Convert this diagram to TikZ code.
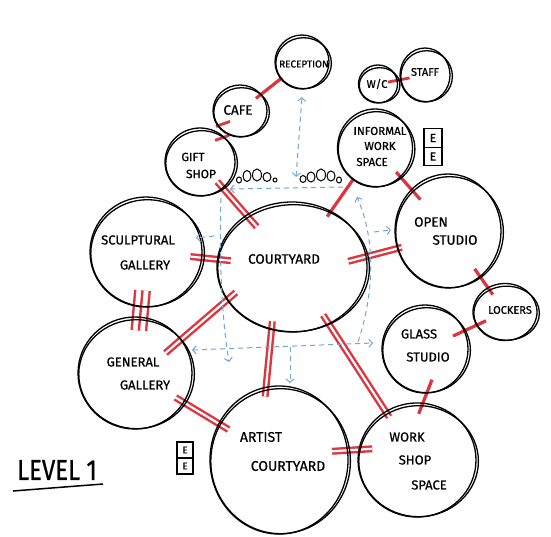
\documentclass[tikz,border=0pt]{standalone}
\usepackage{fontspec}
\setmainfont{Fira Sans}[FakeBold=0.7]
\usetikzlibrary{shapes.geometric,arrows.meta,calc}
\definecolor{rd}{RGB}{222,52,62}
\definecolor{fl}{RGB}{115,165,210}
\pgfdeclarelayer{bg}
\pgfsetlayers{bg,main}
\tikzset{
 ink/.style={draw=black, line width=1.3pt},
 room/.style={ellipse, ink, inner sep=0pt},
 lbl/.style={inner sep=0pt, font=\fontsize{13}{13}\selectfont},
 sgl/.style={draw=rd, line width=3.2pt},
 dbl/.style={draw=rd, line width=2.4pt, double=white, double distance=2.2pt},
 trp/.style={draw=rd, line width=2.4pt, double=white, double distance=12pt},
 flow/.style={draw=fl, line width=1pt, dash pattern=on 5pt off 4pt, >={Straight Barb[length=3.5pt,width=8pt]}},
 ebox/.style={draw, line width=1.1pt, minimum width=18pt, minimum height=18.5pt, inner sep=0pt, font=\fontsize{12}{12}\selectfont},
 dot/.style={draw=black, line width=1pt},
}
\newcommand\rmring[5]{%
  \node[room, minimum width=#4*2pt, minimum height=#5*2pt] (#1) at (#2,#3) {};
  \draw[ink] ([shift={(1.6,1.2)}]#1.center) ellipse [x radius=#4pt+0.8pt, y radius=#5pt-1.5pt];
}
\begin{document}
\begin{tikzpicture}[x=1pt,y=-1pt]
\useasboundingbox (0,0) rectangle (551,537);
% rooms
\rmring{R}{302}{62}{27}{27}
\rmring{C}{240}{111}{27}{26}
\rmring{G}{200}{162}{35}{34}
\rmring{W}{378}{84}{19.5}{19}
\rmring{S}{425}{75}{25}{27}
\rmring{I}{375}{148}{37.5}{39}
\rmring{O}{448}{231}{53}{57}
\rmring{L}{505}{312}{32}{28.5}
\rmring{GS}{425}{349}{43}{44}
\rmring{WS}{417}{460}{59}{57}
\rmring{A}{279}{460}{69}{74}
\rmring{GG}{135}{373}{57}{56}
\rmring{SG}{146}{252}{56}{55}
\rmring{CY}{292}{267}{75}{65}
% labels
\node[lbl, font=\fontsize{10}{10}\selectfont] (Rt) at (304,64) {RECEPTION};
\node[lbl, font=\fontsize{13.5}{13}\selectfont] (Ct) at (238,110) {CAFE};
\node[lbl, font=\fontsize{12}{12}\selectfont] (Gt1) at (193,157) {GIFT};
\node[lbl, font=\fontsize{12}{12}\selectfont] (Gt2) at (201,174) {SHOP};
\node[lbl, font=\fontsize{11}{11}\selectfont] (Wt) at (377,84) {W/C};
\node[lbl, font=\fontsize{11}{11}\selectfont] (St) at (425,72) {STAFF};
\node[lbl, font=\fontsize{11.5}{11}\selectfont] (It1) at (380,131) {INFORMAL};
\node[lbl, font=\fontsize{11.5}{11}\selectfont] (It2) at (380,146) {WORK};
\node[lbl, font=\fontsize{11.5}{11}\selectfont] (It3) at (372,162) {SPACE};
\node[lbl] (SGt1) at (138,240) {SCULPTURAL};
\node[lbl] (SGt2) at (145,265) {GALLERY};
\node[lbl, font=\fontsize{13.5}{13}\selectfont] (CYt) at (284,259) {COURTYARD};
\node[lbl, font=\fontsize{13.5}{13}\selectfont] (Ot1) at (431,222) {OPEN};
\node[lbl, font=\fontsize{13.5}{13}\selectfont] (Ot2) at (455,240) {STUDIO};
\node[lbl, font=\fontsize{11}{11}\selectfont] (Lt) at (510,310) {LOCKERS};
\node[lbl] (GSt1) at (419,334) {GLASS};
\node[lbl] (GSt2) at (428,357) {STUDIO};
\node[lbl] (GGt1) at (133,362) {GENERAL};
\node[lbl] (GGt2) at (145,385) {GALLERY};
\node[lbl, font=\fontsize{14}{14}\selectfont] (At1) at (261,437) {ARTIST};
\node[lbl, font=\fontsize{14}{14}\selectfont] (At2) at (288,466) {COURTYARD};
\node[lbl] (WSt1) at (407,437) {WORK};
\node[lbl] (WSt2) at (415,460) {SHOP};
\node[lbl] (WSt3) at (429,485) {SPACE};
\node[lbl, font=\fontsize{24}{24}\selectfont] (lev) at (57,470) {\scalebox{1}[1.2]{LEVEL 1}};
\coordinate (u1) at (13,491);
\coordinate (u2) at (103,484);
\draw[ink, line width=1.5pt] (u1) -- (u2);
% E boxes
\node[ebox] (E1) at (433,138) {E};
\node[ebox] (E2) at (433,156.5) {E};
\node[ebox, minimum width=16pt, minimum height=16pt, font=\fontsize{10}{10}\selectfont] (E3) at (185,450) {E};
\node[ebox, minimum width=16pt, minimum height=16pt, font=\fontsize{10}{10}\selectfont] (E4) at (185,466) {E};
% small circles
\draw[dot] (239,180) ellipse [x radius=2.5pt, y radius=3pt];
\draw[dot] (247,176) ellipse [x radius=4pt, y radius=5.5pt];
\draw[dot] (257,175) ellipse [x radius=4.5pt, y radius=6pt];
\draw[dot] (267,177) ellipse [x radius=4pt, y radius=4.5pt];
\draw[dot] (275,180) ellipse [x radius=2pt, y radius=2pt];
\draw[dot] (303,179) ellipse [x radius=3pt, y radius=3.5pt];
\draw[dot] (311,177) ellipse [x radius=4pt, y radius=5pt];
\draw[dot] (321,175) ellipse [x radius=4.5pt, y radius=6pt];
\draw[dot] (331,176) ellipse [x radius=4pt, y radius=5pt];
\draw[dot] (339,180) ellipse [x radius=2.5pt, y radius=3pt];
% circulation
\coordinate (ft1) at (230,189);
\coordinate (ft2) at (343,187);
\draw[flow,->] (ft2) -- (ft1);
\coordinate (fr1) at (296,177);
\coordinate (fr2) at (302,97);
\draw[flow,<->] (fr1) -- (fr2);
\coordinate (fl1) at (221,198);
\coordinate (fl2) at (229,362);
\draw[flow,->] (fl1) .. controls (219,260) and (222,320) .. (fl2);
\coordinate (fs1) at (214,236);
\coordinate (fs2) at (196,238);
\draw[flow,->] (fs1) -- (fs2);
\coordinate (fq1) at (358,342);
\coordinate (fq2) at (357,197);
\draw[flow,->] (fq1) .. controls (372,300) and (378,245) .. (fq2);
\coordinate (fo1) at (374,232);
\coordinate (fo2) at (391,230);
\draw[flow,->] (fo1) -- (fo2);
\coordinate (fb1) at (373,343);
\coordinate (fb2) at (192,350);
\draw[flow,<->] (fb2) -- (fb1);
\coordinate (fa1) at (290,347);
\coordinate (fa2) at (290,383);
\draw[flow,->] (fa1) -- (fa2);
% connectors
\begin{pgfonlayer}{bg}
\fill[white] (0,0) rectangle (551,537);
\draw[sgl, shorten <=-2pt, shorten >=-7pt] (R) -- (C);
\coordinate (CGm) at ($(C)!0.4!(G)$);
\draw[sgl, line width=2.8pt] ([shift={(-8,-5)}]CGm) -- ++(14,-5);
\draw[sgl, line width=2.8pt] ([shift={(-9,9)}]CGm) -- ++(14,-5);
\draw[dbl, shorten <=-9pt, shorten >=-16pt] (G) -- (CY);
\draw[sgl, shorten <=-1pt, shorten >=-7pt] (I) -- (CY);
\draw[sgl, shorten <=-7pt, shorten >=-14pt] (I) -- (O);
\draw[dbl, shorten <=-19pt, shorten >=-5pt] (CY.8) -- (O.199);
\draw[sgl, shorten <=-10pt, shorten >=-9pt] (O) -- (L);
\draw[sgl, shorten <=-11pt, shorten >=-13pt] (L) -- (GS);
\draw[sgl, shorten <=-15pt, shorten >=-12pt] (GS.-88) -- (WS.84);
\draw[dbl, shorten <=-11pt, shorten >=-7pt] (CY) -- (WS);
\draw[dbl, shorten <=-9pt, shorten >=-10pt] (CY.252) -- (A.100);
\draw[dbl, shorten <=-12pt, shorten >=-21pt] (CY.207) -- (GG.36);
\draw[dbl, shorten <=-14pt, shorten >=-12pt] (CY) -- (SG);
\draw[trp, shorten <=-17pt, shorten >=-14pt] (SG) -- (GG);
\draw[draw=rd, line width=2.4pt, shorten <=-17pt, shorten >=-14pt] (SG) -- (GG);
\draw[dbl, shorten <=-10pt, shorten >=-12pt] (GG) -- (A);
\draw[dbl, shorten <=-16pt, shorten >=-14pt] (A.8) -- (WS.170);
\draw[sgl, line width=2.8pt, shorten <=-10pt, shorten >=-10pt] (W) -- (S);
\end{pgfonlayer}
\end{tikzpicture}
\end{document}
